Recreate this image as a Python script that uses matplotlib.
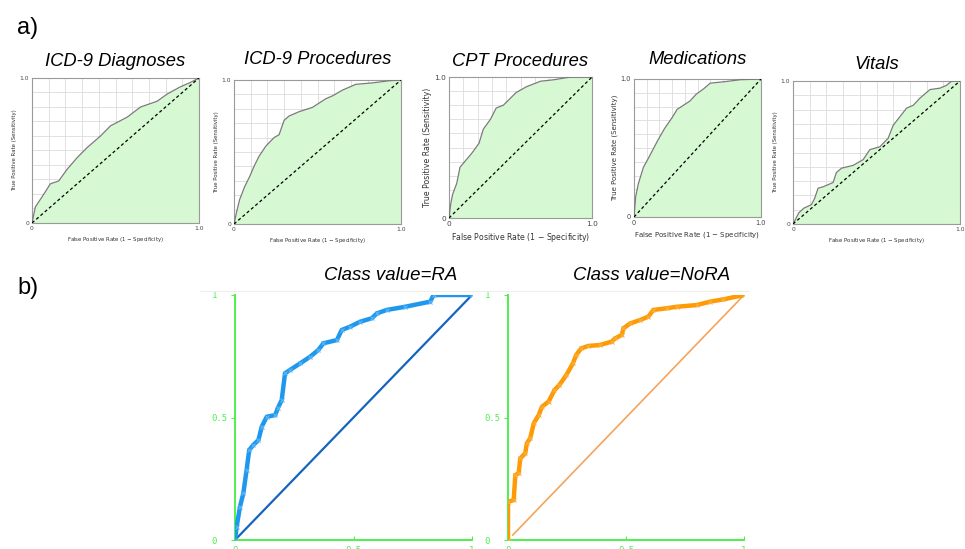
import numpy as np
import matplotlib.pyplot as plt
from matplotlib.lines import Line2D

# ---------------------------------------------------------------------------
# ROC curves (fpr, tpr)
titles = ['ICD-9 Diagnoses', 'ICD-9 Procedures', 'CPT Procedures', 'Medications', 'Vitals']

diag_fpr = [0, 0.02, 0.06, 0.11, 0.16, 0.21, 0.27, 0.33, 0.41, 0.47, 0.57, 0.65, 0.75, 0.81, 0.89, 0.95, 1.0]
diag_tpr = [0, 0.11, 0.18, 0.27, 0.29, 0.37, 0.45, 0.52, 0.60, 0.67, 0.73, 0.80, 0.84, 0.89, 0.94, 0.97, 1.0]

proc_fpr = [0, 0.014, 0.034, 0.064, 0.094, 0.12, 0.15, 0.19, 0.24, 0.27, 0.30, 0.33, 0.39, 0.47, 0.55, 0.59, 0.65, 0.73, 0.83, 0.93, 1.0]
proc_tpr = [0, 0.076, 0.17, 0.26, 0.33, 0.40, 0.47, 0.54, 0.60, 0.62, 0.72, 0.75, 0.78, 0.81, 0.87, 0.89, 0.93, 0.97, 0.98, 0.995, 1.0]

cpt_fpr = [0, 0.012, 0.026, 0.054, 0.077, 0.11, 0.16, 0.21, 0.24, 0.29, 0.33, 0.38, 0.43, 0.47, 0.54, 0.64, 0.73, 0.85, 1.0]
cpt_tpr = [0, 0.10, 0.17, 0.245, 0.36, 0.40, 0.46, 0.53, 0.63, 0.70, 0.78, 0.80, 0.85, 0.89, 0.93, 0.97, 0.98, 1.0, 1.0]

med_fpr = [0, 0.013, 0.034, 0.074, 0.11, 0.15, 0.19, 0.24, 0.30, 0.34, 0.39, 0.44, 0.49, 0.55, 0.60, 0.71, 0.84, 1.0]
med_tpr = [0, 0.146, 0.24, 0.36, 0.42, 0.49, 0.56, 0.64, 0.72, 0.78, 0.81, 0.84, 0.89, 0.93, 0.97, 0.98, 0.995, 1.0]

vit_fpr = [0, 0.014, 0.034, 0.064, 0.11, 0.13, 0.15, 0.18, 0.24, 0.26, 0.29, 0.36, 0.42, 0.46, 0.52, 0.57, 0.60,
           0.64, 0.68, 0.72, 0.76, 0.82, 0.88, 0.92, 0.95, 1.0]
vit_tpr = [0, 0.03, 0.077, 0.11, 0.135, 0.18, 0.25, 0.26, 0.29, 0.36, 0.39, 0.41, 0.45, 0.52, 0.54, 0.60, 0.69,
           0.75, 0.81, 0.83, 0.88, 0.94, 0.95, 0.97, 1.0, 1.0]

ra_fpr = [0, 0.007, 0.021, 0.035, 0.049, 0.06, 0.077, 0.099, 0.113, 0.134, 0.17, 0.18, 0.197, 0.211, 0.232,
          0.275, 0.317, 0.352, 0.373, 0.43, 0.45, 0.486, 0.528, 0.577, 0.599, 0.64, 0.718, 0.824, 0.838, 1.0]
ra_tpr = [0, 0.054, 0.136, 0.19, 0.286, 0.367, 0.388, 0.408, 0.463, 0.503, 0.51, 0.537, 0.571, 0.68, 0.694,
          0.721, 0.748, 0.776, 0.803, 0.816, 0.857, 0.871, 0.891, 0.905, 0.925, 0.939, 0.952, 0.973, 1.0, 1.0]

nora_fpr = [0, 0, 0.024, 0.031, 0.045, 0.052, 0.073, 0.080, 0.094, 0.109, 0.130, 0.144, 0.172, 0.197, 0.218,
            0.247, 0.275, 0.289, 0.310, 0.34, 0.39, 0.44, 0.454, 0.482, 0.489, 0.518, 0.56, 0.595, 0.616, 0.673,
            0.715, 0.80, 0.857, 0.912, 1.0]
nora_tpr = [0, 0.156, 0.163, 0.265, 0.272, 0.333, 0.354, 0.395, 0.415, 0.476, 0.510, 0.544, 0.565, 0.612, 0.633,
            0.673, 0.721, 0.755, 0.782, 0.792, 0.796, 0.810, 0.823, 0.837, 0.864, 0.884, 0.898, 0.912, 0.939, 0.946,
            0.952, 0.959, 0.973, 0.982, 1.0]

top_curves = [(diag_fpr, diag_tpr), (proc_fpr, proc_tpr), (cpt_fpr, cpt_tpr),
              (med_fpr, med_tpr), (vit_fpr, vit_tpr)]

# ---------------------------------------------------------------------------
W, H = 965, 549
fig = plt.figure(figsize=(W / 100, H / 100), dpi=100)
plt.rcParams['font.family'] = ['Liberation Sans', 'DejaVu Sans']


def px_axes(left, top, right, bottom):
    return fig.add_axes([left / W, 1 - bottom / H, (right - left) / W, (bottom - top) / H])


# panel boxes in pixels (left, top, right, bottom), plus label font size
top_boxes = [(32, 78, 199, 223), (234, 80, 401, 224), (449, 77, 592, 218),
             (634, 79, 761, 217), (793, 81, 960, 224)]
label_sizes = [3.7, 3.7, 5.3, 4.8, 3.7]
title_y = [62, 60, 61, 60, 64]

fig.text(17 / W, 1 - 28 / H, 'a)', fontsize=17, va='center', ha='left')
fig.text(17 / W, 1 - 288 / H, 'b)', fontsize=17, va='center', ha='left')

for box, (fx, ty), ttl, fs, yt in zip(top_boxes, top_curves, titles, label_sizes, title_y):
    ax = px_axes(*box)
    ax.fill_between(fx, ty, 0, color='#d6f8d2', zorder=2, lw=0)
    ax.plot(fx, ty, color='#7a7a7a', lw=0.9, zorder=3)
    ax.plot([0, 1], [0, 1], color='black', ls=(0, (2.5, 2)), lw=0.9, zorder=4)
    ax.set_xlim(0, 1)
    ax.set_ylim(0, 1)
    grid = np.round(np.arange(0, 1.01, 0.1), 1)
    ax.set_xticks(grid)
    ax.set_yticks(grid)
    ax.set_xticklabels(['0'] + [''] * 9 + ['1.0'])
    ax.set_yticklabels(['0'] + [''] * 9 + ['1.0'])
    ax.tick_params(length=0, labelsize=max(fs, 4.3), colors='#444444', pad=2)
    for lab in ax.get_xticklabels() + ax.get_yticklabels():
        lab.set_family('DejaVu Sans')
    ax.grid(True, color='#dcdcdc', lw=0.6)
    ax.set_axisbelow(True)
    for s in ax.spines.values():
        s.set_color('#9a9a9a')
        s.set_linewidth(0.8)
    ax.set_xlabel('False Positive Rate (1 $-$ Specificity)', fontsize=fs * 1.05, color='#333333',
                  family='DejaVu Sans', labelpad=3)
    ax.set_ylabel('True Positive Rate (Sensitivity)', fontsize=fs * 1.05, color='#333333',
                  family='DejaVu Sans', labelpad=2)
    cx = (box[0] + box[2]) / 2
    fig.text(cx / W, 1 - yt / H, ttl, fontsize=13.2, style='italic', ha='center', va='center')

# ---------------------------------------------------------------------------
green = '#4ef04e'
bottom_boxes = [(235, 295, 472, 540), (508, 295, 744, 540)]
bottom_titles = ['Class value=RA', 'Class value=NoRA']
title_x = [391, 652]
bottom_curves = [(ra_fpr, ra_tpr, '#1e98ee', '#5fb6f2', '#1565c0', 1.6, 0.0),
                 (nora_fpr, nora_tpr, '#ff9a05', '#f7b040', '#f5a45a', 1.2, 0.02)]
frame_lines = [(200, 490), (480, 748)]

for box, (fx, ty, col, mcol, dcol, dlw, d0), ttl, tx, fl in zip(bottom_boxes, bottom_curves,
                                                                 bottom_titles, title_x, frame_lines):
    ax = px_axes(*box)
    ax.plot([d0, 1], [d0, 1], color=dcol, lw=dlw, zorder=2)
    ax.plot(fx, ty, color=col, lw=3.2, marker='x', ms=3.5, mec=mcol, mew=0.8, zorder=3,
            solid_joinstyle='miter')
    ax.set_xlim(0, 1)
    ax.set_ylim(0, 1)
    for s in ['top', 'right']:
        ax.spines[s].set_visible(False)
    for s in ['left', 'bottom']:
        ax.spines[s].set_color(green)
        ax.spines[s].set_linewidth(1.4)
    ax.set_xticks([0, 0.5, 1])
    ax.set_xticklabels(['0', '0.5', '1'])
    ax.set_yticks([0, 0.5, 1])
    ax.set_yticklabels(['0', '0.5', '1'])
    ax.tick_params(axis='y', direction='out', length=3, color=green, labelcolor=green,
                   labelsize=6.5, pad=14)
    ax.tick_params(axis='x', direction='in', length=3, color=green, labelcolor=green,
                   labelsize=6.5, pad=4)
    for lab in ax.get_yticklabels():
        lab.set_ha('left')
        lab.set_family('DejaVu Sans Mono')
    for lab in ax.get_xticklabels():
        lab.set_family('DejaVu Sans Mono')
    ax.patch.set_alpha(0)
    fig.add_artist(Line2D([fl[0] / W, fl[1] / W], [1 - 291 / H, 1 - 291 / H], color='#eeeeee', lw=0.8))
    fig.text(tx / W, 1 - 276 / H, ttl, fontsize=13.4, style='italic', ha='center', va='center')

fig.savefig('out.png', dpi=100)
